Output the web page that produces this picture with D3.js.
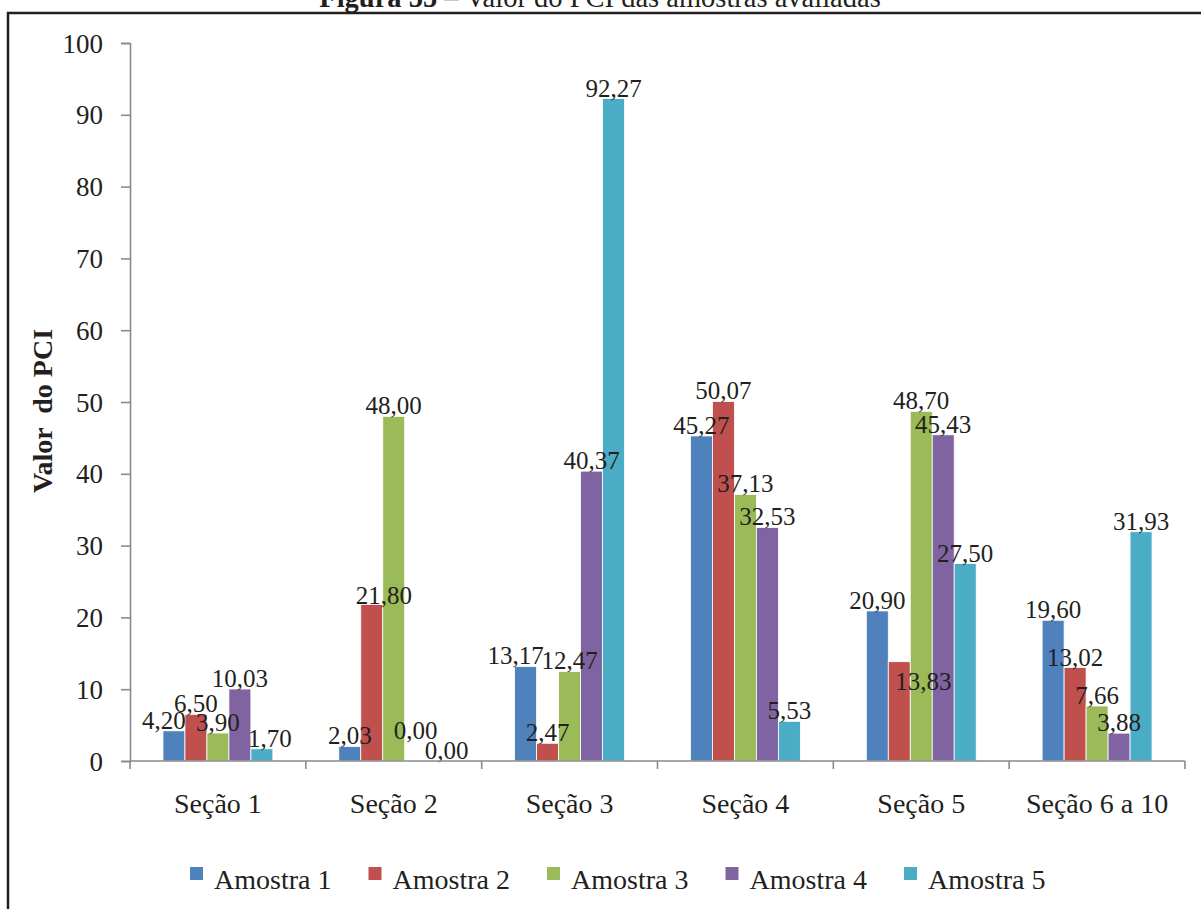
<!DOCTYPE html>
<html>
<head>
<meta charset="utf-8">
<script src="https://cdn.jsdelivr.net/npm/d3@7"></script>
<style>
  html, body { margin: 0; padding: 0; background: #fff; }
  svg { display: block; }
  text { font-family: "Liberation Serif", "Times New Roman", serif; fill: #231f20; }
</style>
</head>
<body>
<svg id="chart" width="1201" height="909"></svg>
<script>
// PCI values per section (category) and sample (series)
const categories = ["Seção 1", "Seção 2", "Seção 3", "Seção 4", "Seção 5", "Seção 6 a 10"];
const seriesNames = ["Amostra 1", "Amostra 2", "Amostra 3", "Amostra 4", "Amostra 5"];
const amostra1 = [4.20, 2.03, 13.17, 45.27, 20.90, 19.60];
const amostra2 = [6.50, 21.80, 2.47, 50.07, 13.83, 13.02];
const amostra3 = [3.90, 48.00, 12.47, 37.13, 48.70, 7.66];
const amostra4 = [10.03, 0.00, 40.37, 32.53, 45.43, 3.88];
const amostra5 = [1.70, 0.00, 92.27, 5.53, 27.50, 31.93];
const yTicks = [0, 10, 20, 30, 40, 50, 60, 70, 80, 90, 100];
const seriesColors = ["#4F81BD", "#C0504D", "#9BBB59", "#8064A2", "#4BACC6"];

const seriesValues = [amostra1, amostra2, amostra3, amostra4, amostra5];
const rows = [];
categories.forEach((c, ci) => {
  seriesNames.forEach((s, si) => {
    rows.push({ category: c, ci, series: s, si, value: seriesValues[si][ci] });
  });
});

// Hand-placed value labels that were dragged off their default spot: "category-series" -> [dx, dy]
const labelNudge = {
  "0-0": [-10, 0], "0-4": [8, 0],
  "1-1": [12, 2], "1-3": [0, -20], "1-4": [9, 0],
  "2-0": [-10, 0],
  "4-1": [24, 30]
};

const svg = d3.select("#chart");
const plot = { left: 130, right: 1185, top: 43, bottom: 761 };
const axisColor = "#8a8a8a";
const fmt = v => v.toFixed(2).replace(".", ",");

// Outer frame (left and top edges)
svg.append("line").attr("x1", 8).attr("x2", 8).attr("y1", 12).attr("y2", 909)
  .attr("stroke", "#231f20").attr("stroke-width", 2.5);
svg.append("line").attr("x1", 7).attr("x2", 1201).attr("y1", 13).attr("y2", 13)
  .attr("stroke", "#231f20").attr("stroke-width", 2.5);

// Caption
const caption = svg.append("text").attr("x", 600).attr("y", 7)
  .attr("text-anchor", "middle").style("font-size", "28.5px");
caption.append("tspan").style("font-weight", "bold").text("Figura 55");
caption.append("tspan").text(" – Valor do PCI das amostras avaliadas");

// Scales
const x0 = d3.scaleBand().domain(categories).range([plot.left, plot.right]).padding(0);
const gap = x0.bandwidth() * 0.375;
const x1 = d3.scaleBand().domain(seriesNames).range([gap / 2, x0.bandwidth() - gap / 2]).padding(0);
const y = d3.scaleLinear().domain([0, 100]).range([plot.bottom, plot.top]);
const color = d3.scaleOrdinal().domain(seriesNames).range(seriesColors);

// Y axis
const yAxis = svg.append("g").attr("transform", `translate(${plot.left},0)`)
  .call(d3.axisLeft(y).tickValues(yTicks).tickFormat(d3.format("d")).tickSize(9).tickPadding(18));
yAxis.select(".domain").attr("stroke", axisColor).attr("stroke-width", 1.6);
yAxis.selectAll(".tick line").attr("stroke", axisColor).attr("stroke-width", 1.6);
yAxis.selectAll(".tick text").attr("fill", "#231f20")
  .style("font-size", "27px").style("font-family", "Liberation Serif, serif")
  .attr("dy", "0.34em");

// Bars
const groups = svg.append("g").selectAll("g").data(categories).join("g")
  .attr("transform", d => `translate(${x0(d)},0)`);
groups.selectAll("rect").data(c => rows.filter(r => r.category === c)).join("rect")
  .attr("x", d => x1(d.series))
  .attr("width", x1.bandwidth())
  .attr("y", d => y(d.value))
  .attr("height", d => y(0) - y(d.value))
  .attr("fill", d => color(d.series))
  .attr("stroke", "#ffffff").attr("stroke-width", 0.8);

// X axis with ticks on category boundaries
const xAxisG = svg.append("g");
xAxisG.append("line").attr("x1", plot.left).attr("x2", plot.right)
  .attr("y1", y(0)).attr("y2", y(0)).attr("stroke", axisColor).attr("stroke-width", 1.6);
const boundaries = categories.map(c => x0(c)).concat([x0(categories[categories.length - 1]) + x0.bandwidth()]);
xAxisG.selectAll("line.tk").data(boundaries).join("line").attr("class", "tk")
  .attr("x1", d => d).attr("x2", d => d).attr("y1", y(0)).attr("y2", y(0) + 8)
  .attr("stroke", axisColor).attr("stroke-width", 1.6);
xAxisG.selectAll("text").data(categories).join("text")
  .attr("x", d => x0(d) + x0.bandwidth() / 2).attr("y", 813)
  .attr("text-anchor", "middle").style("font-size", "28px").text(d => d);

// Value labels
const nudge = d => labelNudge[`${d.ci}-${d.si}`] || [0, 0];
groups.selectAll("text").data(c => rows.filter(r => r.category === c)).join("text")
  .attr("x", d => x1(d.series) + x1.bandwidth() / 2 + nudge(d)[0])
  .attr("y", d => y(d.value) - 2 + nudge(d)[1])
  .attr("text-anchor", "middle").style("font-size", "25px")
  .text(d => fmt(d.value));

// Y axis title
svg.append("text").attr("transform", "translate(52,411) rotate(-90)")
  .attr("text-anchor", "middle").style("font-size", "28px").style("font-weight", "bold")
  .style("white-space", "pre").attr("xml:space", "preserve")
  .text("Valor  do PCI");

// Legend
const legend = svg.append("g").selectAll("g").data(seriesNames).join("g")
  .attr("transform", (d, i) => `translate(${190 + i * 178.5},0)`);
legend.append("rect").attr("x", 0).attr("y", 867).attr("width", 13).attr("height", 13)
  .attr("fill", d => color(d));
legend.append("text").attr("x", 24).attr("y", 889).style("font-size", "28px").text(d => d);
</script>
</body>
</html>
